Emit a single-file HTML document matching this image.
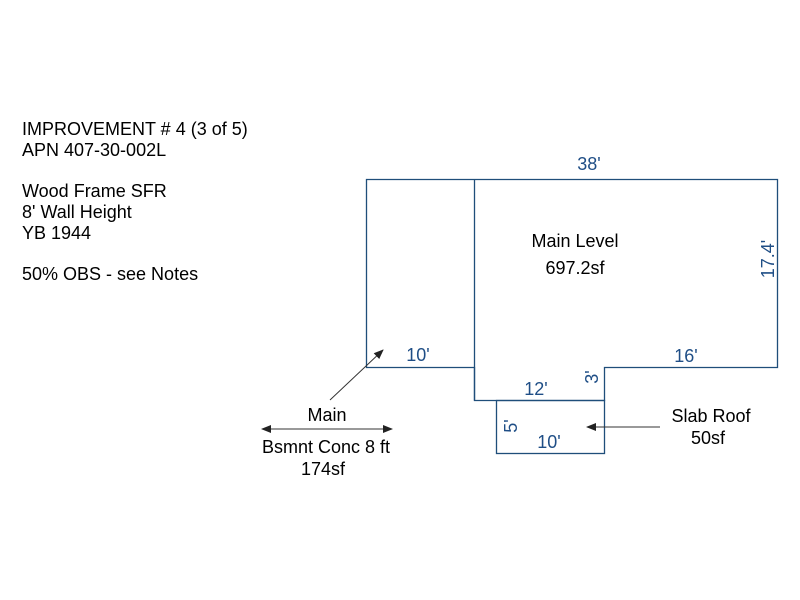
<!DOCTYPE html>
<html><head><style>
body{margin:0;background:#fff;}
svg{display:block;}
text{font-family:"Liberation Sans",Arial,sans-serif;font-size:18px;}
.b{fill:#1f4e86;}
.k{fill:#000;}
</style></head><body>
<svg width="800" height="600" viewBox="0 0 800 600" xmlns="http://www.w3.org/2000/svg">
<defs>
<marker id="ah" markerWidth="10" markerHeight="8" refX="9" refY="4" orient="auto" markerUnits="userSpaceOnUse">
<path d="M0,0 L10,4 L0,8 Z" fill="#222"/></marker>
</defs>
<g fill="none" stroke="#1f4e7a" stroke-width="1.3">
<path d="M366.5,179.5 H777.5 V367.5 H604.5 V400.5 H474.5 V367.5 H366.5 Z"/>
<line x1="474.5" y1="179.5" x2="474.5" y2="400.5"/>
<rect x="496.5" y="400.5" width="108" height="53"/>
</g>
<g stroke="#333" stroke-width="1">
<line x1="330" y1="400" x2="383" y2="350" marker-end="url(#ah)"/>
<line x1="300" y1="429" x2="262" y2="429" marker-end="url(#ah)"/>
<line x1="300" y1="429" x2="392" y2="429" marker-end="url(#ah)"/>
<line x1="660" y1="427" x2="587" y2="427" marker-end="url(#ah)"/>
</g>
<g class="k">
<text x="22" y="135">IMPROVEMENT # 4 (3 of 5)</text>
<text x="22" y="156">APN 407-30-002L</text>
<text x="22" y="197">Wood Frame SFR</text>
<text x="22" y="218">8' Wall Height</text>
<text x="22" y="239">YB 1944</text>
<text x="22" y="280">50% OBS - see Notes</text>
<text x="575" y="247" text-anchor="middle">Main Level</text>
<text x="575" y="274" text-anchor="middle">697.2sf</text>
<text x="327" y="421" text-anchor="middle">Main</text>
<text x="326" y="453" text-anchor="middle">Bsmnt Conc 8 ft</text>
<text x="323" y="475" text-anchor="middle">174sf</text>
<text x="711" y="422" text-anchor="middle">Slab Roof</text>
<text x="708" y="444" text-anchor="middle">50sf</text>
</g>
<g class="b">
<text x="589" y="170" text-anchor="middle">38'</text>
<text x="418" y="361" text-anchor="middle">10'</text>
<text x="686" y="362" text-anchor="middle">16'</text>
<text x="536" y="395" text-anchor="middle">12'</text>
<text x="549" y="448" text-anchor="middle">10'</text>
<text transform="translate(774,259) rotate(-90)" text-anchor="middle">17.4'</text>
<text transform="translate(598,377) rotate(-90)" text-anchor="middle">3'</text>
<text transform="translate(517,426) rotate(-90)" text-anchor="middle">5'</text>
</g>
</svg>
</body></html>
